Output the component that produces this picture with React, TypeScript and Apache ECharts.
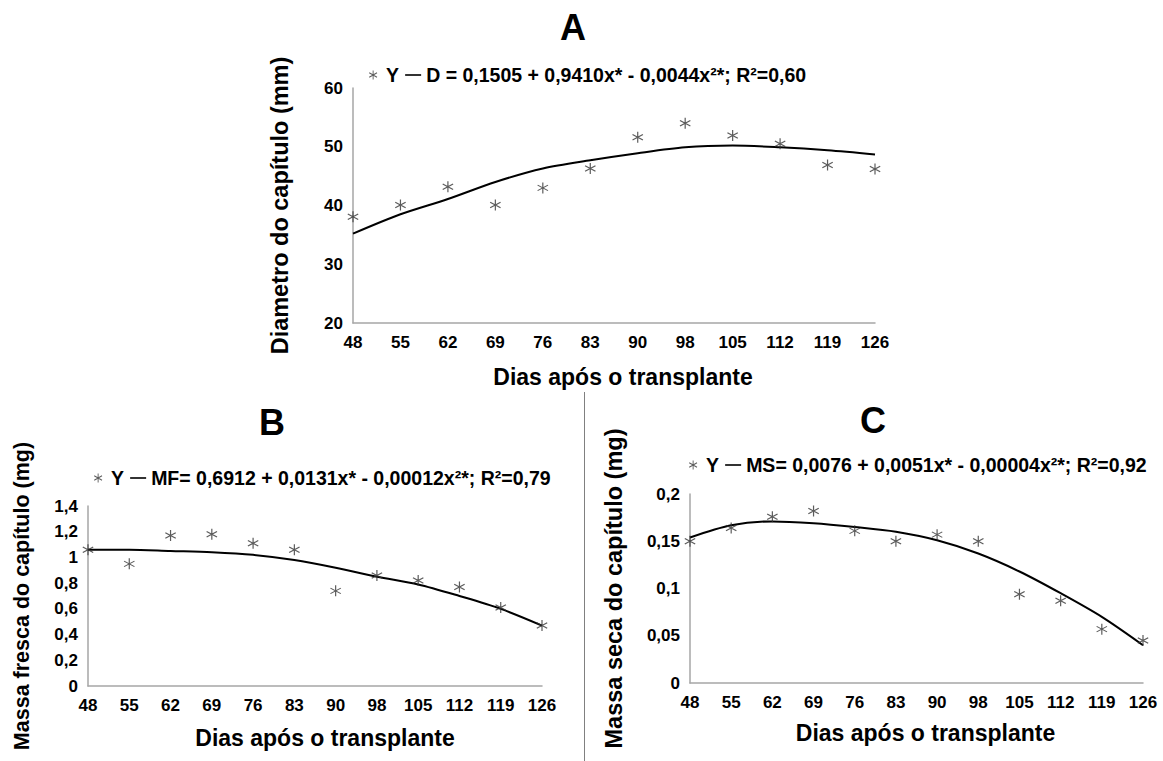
import React, { useEffect, useRef } from "react";
import * as echarts from "echarts";

// ---- Data ----
const days = ["48", "55", "62", "69", "76", "83", "90", "98", "105", "112", "119", "126"];

// Panel A: Diametro do capítulo (mm)
const diamObs = [38.1, 40.1, 43.2, 40.1, 43.0, 46.3, 51.6, 54.0, 51.9, 50.5, 46.9, 46.2];
const diamFit = [35.2, 38.5, 41.1, 44.0, 46.3, 47.7, 48.9, 49.9, 50.2, 49.9, 49.4, 48.7];
const eqA = "D = 0,1505 + 0,9410x* - 0,0044x²*; R²=0,60";

// Panel B: Massa fresca do capítulo (mg)
const fmObs = [1.06, 0.95, 1.17, 1.18, 1.11, 1.06, 0.74, 0.86, 0.82, 0.77, 0.61, 0.47];
const fmFit = [1.06, 1.06, 1.05, 1.04, 1.02, 0.98, 0.92, 0.85, 0.79, 0.70, 0.60, 0.47];
const eqB = "MF= 0,6912 + 0,0131x* - 0,00012x²*; R²=0,79";

// Panel C: Massa seca do capítulo (mg)
const msObs = [0.150, 0.164, 0.176, 0.182, 0.161, 0.150, 0.157, 0.150, 0.094, 0.087, 0.057, 0.045];
const msFit = [0.154, 0.167, 0.171, 0.169, 0.165, 0.160, 0.151, 0.137, 0.118, 0.095, 0.070, 0.040];
const eqC = "MS= 0,0076 + 0,0051x* - 0,00004x²*; R²=0,92";

const xName = "Dias após o transplante";
const yNameA = "Diametro do capítulo (mm)";
const yNameB = "Massa fresca do capítulo (mg)";
const yNameC = "Massa seca do capítulo (mg)";

// ---- Styling helpers ----
const FONT = "'Liberation Sans', Arial, sans-serif";

function starPath(): string {
  const L = 10;
  const w = 1.0;
  let d = "";
  for (const deg of [90, 30, -30]) {
    const a = (deg * Math.PI) / 180;
    const ux = Math.cos(a), uy = Math.sin(a);
    const nx = -uy, ny = ux;
    const pts = [
      [L / 2 * ux + w / 2 * nx, L / 2 * uy + w / 2 * ny],
      [L / 2 * ux - w / 2 * nx, L / 2 * uy - w / 2 * ny],
      [-L / 2 * ux - w / 2 * nx, -L / 2 * uy - w / 2 * ny],
      [-L / 2 * ux + w / 2 * nx, -L / 2 * uy + w / 2 * ny],
    ].map(([x, y]) => [(x + 6).toFixed(3), (y + 6).toFixed(3)]);
    d += `M${pts[0][0]},${pts[0][1]}L${pts[1][0]},${pts[1][1]}L${pts[2][0]},${pts[2][1]}L${pts[3][0]},${pts[3][1]}Z`;
  }
  return "path://" + d;
}
const STAR = starPath();
const LINE_ICON = "path://M0,0L20,0L20,2L0,2Z";

const fmtComma = (v: number) => String(+v.toFixed(3)).replace(".", ",");

function makeX(gridIndex: number, nameGap: number, namePadLeft: number) {
  return {
    type: "category",
    gridIndex,
    data: days,
    boundaryGap: false,
    name: xName,
    nameLocation: "middle",
    nameGap,
    nameTextStyle: {
      fontFamily: FONT, fontWeight: "bold", fontSize: 23, color: "#000",
      padding: [0, 0, 0, namePadLeft],
    },
    axisLine: { lineStyle: { color: "#a6a6a6", width: 1.5 } },
    axisTick: { show: false },
    axisLabel: {
      interval: 0, margin: 11, fontFamily: FONT, fontWeight: "bold", fontSize: 17, color: "#000",
    },
    splitLine: { show: false },
  };
}

function makeY(
  gridIndex: number, min: number, max: number, interval: number,
  name: string, nameGap: number, nameSize: number
) {
  return {
    type: "value",
    gridIndex,
    min, max, interval,
    name,
    nameLocation: "middle",
    nameGap,
    nameTextStyle: { fontFamily: FONT, fontWeight: "bold", fontSize: nameSize, color: "#000" },
    axisLine: { show: true, lineStyle: { color: "#a6a6a6", width: 1.5 } },
    axisTick: { show: false },
    axisLabel: {
      margin: 10, fontFamily: FONT, fontWeight: "bold", fontSize: 17, color: "#000",
      formatter: (v: number) => fmtComma(v),
    },
    splitLine: { show: false },
  };
}

function makeLegend(left: number, top: number, eq: string) {
  return {
    left, top,
    width: 520,
    padding: 0,
    orient: "horizontal",
    itemWidth: 16,
    itemHeight: 9,
    itemGap: 6,
    selectedMode: false,
    textStyle: { fontFamily: FONT, fontWeight: "bold", fontSize: 19.5, color: "#000" },
    data: [
      { name: "Y", icon: STAR },
      { name: eq, icon: LINE_ICON },
    ],
  };
}

function makeSeries(idx: number, obs: number[], fit: number[], eq: string) {
  return [
    {
      type: "line",
      name: eq,
      xAxisIndex: idx,
      yAxisIndex: idx,
      data: fit,
      smooth: 0.3,
      symbol: "none",
      lineStyle: { color: "#000", width: 2 },
      itemStyle: { color: "#000" },
      z: 2,
    },
    {
      type: "scatter",
      name: "Y",
      xAxisIndex: idx,
      yAxisIndex: idx,
      data: obs,
      symbol: STAR,
      symbolSize: 11,
      itemStyle: { color: "#333" },
      z: 3,
    },
  ];
}

export default function App() {
  const ref = useRef<HTMLDivElement>(null);

  useEffect(() => {
    if (!ref.current) return;
    const chart = echarts.init(ref.current, undefined, { renderer: "svg" });
    const titleStyle = { fontFamily: FONT, fontWeight: "bold", fontSize: 36, fill: "#000" };
    chart.setOption({
      animation: false,
      backgroundColor: "#fff",
      grid: [
        { left: 353, right: 288, top: 88, bottom: 438, outerBoundsMode: "none", containLabel: false },
        { left: 88, right: 621, top: 506, bottom: 75, outerBoundsMode: "none", containLabel: false },
        { left: 690, right: 20, top: 494, bottom: 78, outerBoundsMode: "none", containLabel: false },
      ],
      legend: [
        makeLegend(369, 65, eqA),
        makeLegend(94, 468, eqB),
        makeLegend(689, 455, eqC),
      ],
      xAxis: [makeX(0, 42, 18), makeX(1, 40, 20), makeX(2, 38, 18)],
      yAxis: [
        makeY(0, 20, 60, 10, yNameA, 61, 23.5),
        makeY(1, 0, 1.4, 0.2, yNameB, 55, 21.5),
        makeY(2, 0, 0.2, 0.05, yNameC, 64, 23.5),
      ],
      series: [
        ...makeSeries(0, diamObs, diamFit, eqA),
        ...makeSeries(1, fmObs, fmFit, eqB),
        ...makeSeries(2, msObs, msFit, eqC),
      ],
      graphic: [
        { type: "text", x: 573, y: 27, style: { ...titleStyle, text: "A", align: "center", verticalAlign: "middle" } },
        { type: "text", x: 272, y: 422, style: { ...titleStyle, text: "B", align: "center", verticalAlign: "middle" } },
        { type: "text", x: 873, y: 420, style: { ...titleStyle, text: "C", align: "center", verticalAlign: "middle" } },
        { type: "line", shape: { x1: 584.5, y1: 392, x2: 584.5, y2: 761 }, style: { stroke: "#808080", lineWidth: 1 } },
      ],
    });
    return () => chart.dispose();
  }, []);

  return (
    <div
      ref={ref}
      style={{ position: "absolute", left: 0, top: 0, width: 1163, height: 761 }}
    />
  );
}
